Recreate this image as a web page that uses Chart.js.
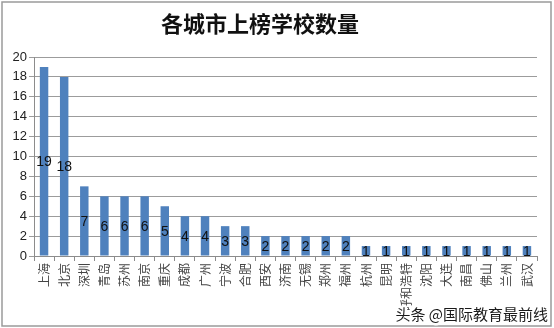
<!DOCTYPE html>
<html>
<head>
<meta charset="utf-8">
<script src="https://cdn.jsdelivr.net/npm/chart.js@4/dist/chart.umd.min.js"></script>
<style>
  html, body { margin: 0; padding: 0; background: #fff; }
  #wrap { width: 554px; height: 328px; }
</style>
</head>
<body>
<div id="wrap"><canvas id="chart-1"></canvas></div>
<script>
const cities = ["上海", "北京", "深圳", "青岛", "苏州", "南京", "重庆", "成都", "广州", "宁波", "合肥", "西安", "济南",
  "无锡", "郑州", "福州", "杭州", "昆明", "呼和浩特", "沈阳", "大连", "南昌", "佛山", "兰州", "武汉"];
const schools = [19, 18, 7, 6, 6, 6, 5, 4, 4, 3, 3, 2, 2, 2, 2, 2, 1, 1, 1, 1, 1, 1, 1, 1, 1];
const yTicks = [0, 2, 4, 6, 8, 10, 12, 14, 16, 18, 20];

const cjk = "'Noto Sans CJK SC', 'Noto Sans', sans-serif";
const latin = "'Liberation Sans', Arial, sans-serif";

// value in the middle of each bar
const barLabels = {
  id: "barLabels",
  afterDatasetsDraw(chart) {
    const ctx = chart.ctx;
    const meta = chart.getDatasetMeta(0);
    ctx.save();
    ctx.font = "14px " + latin;
    ctx.fillStyle = "#111";
    ctx.textAlign = "center";
    ctx.textBaseline = "middle";
    meta.data.forEach(function (bar, i) {
      ctx.fillText(String(schools[i]), bar.x, (bar.y + bar.base) / 2 + 1);
    });
    ctx.restore();
  },
};

// title, outer frame and watermark
const frame = {
  id: "frame",
  afterDraw(chart) {
    const ctx = chart.ctx;
    ctx.save();
    ctx.strokeStyle = "#9a9a9a";
    ctx.lineWidth = 1.5;
    ctx.strokeRect(2, 2, 549, 324);

    ctx.font = "bold 22px " + cjk;
    ctx.fillStyle = "#111";
    ctx.textAlign = "center";
    ctx.textBaseline = "middle";
    ctx.fillText("各城市上榜学校数量", 260, 24);

    ctx.font = "15px " + cjk;
    ctx.textAlign = "right";
    ctx.textBaseline = "alphabetic";
    ctx.lineWidth = 5;
    ctx.strokeStyle = "#fff";
    ctx.lineJoin = "round";
    ctx.strokeText("头条 @国际教育最前线", 548, 320);
    ctx.fillStyle = "#1a1a1a";
    ctx.fillText("头条 @国际教育最前线", 548, 320);
    ctx.restore();
  },
};

new Chart(document.getElementById("chart-1"), {
  type: "bar",
  data: {
    labels: cities,
    datasets: [
      {
        label: "上榜学校数量",
        data: schools,
        backgroundColor: "#4F81BD",
        barPercentage: 0.42,
        categoryPercentage: 1,
      },
    ],
  },
  options: {
    responsive: true,
    maintainAspectRatio: false,
    animation: { duration: 0 },
    layout: { padding: { left: 0, right: 17, top: 57, bottom: 10 } },
    plugins: {
      legend: { display: false },
      tooltip: { enabled: false },
      title: { display: false },
    },
    scales: {
      x: {
        offset: true,
        grid: {
          offset: true,
          drawOnChartArea: false,
          drawTicks: true,
          tickLength: 5,
          color: "#8c8c8c",
        },
        border: { color: "#8c8c8c" },
        ticks: {
          color: "#444",
          minRotation: 90,
          maxRotation: 90,
          autoSkip: false,
          padding: 2,
          font: { family: cjk, size: 12 },
        },
        afterFit(scale) {
          scale.height = 62;
        },
      },
      y: {
        min: 0,
        max: 20,
        afterBuildTicks(scale) {
          scale.ticks = yTicks.map(function (v) { return { value: v }; });
        },
        grid: { color: "#9c9c9c", tickLength: 5 },
        border: { color: "#8c8c8c" },
        ticks: {
          color: "#222",
          padding: 2,
          font: { family: latin, size: 13 },
        },
        afterFit(scale) {
          scale.width = 34;
        },
      },
    },
  },
  plugins: [barLabels, frame],
});
</script>
</body>
</html>
